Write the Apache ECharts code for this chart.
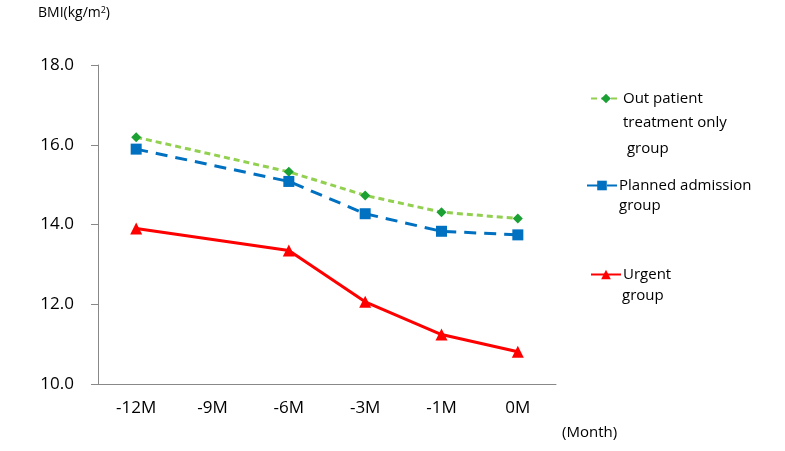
<!DOCTYPE html><html><head><meta charset="utf-8"><script src="https://cdn.jsdelivr.net/npm/echarts@6/dist/echarts.min.js"></script></head><body style="margin:0"><div id="c" style="width:785px;height:451px"></div><script>
const categories=['-12M','-9M','-6M','-3M','-1M','0M'];
const outPatient=[16.19,null,15.32,14.73,14.31,14.15];
const planned=[15.89,null,15.08,14.27,13.83,13.74];
const urgent=[13.9,null,13.35,12.06,11.24,10.81];
const yTicks=[10,12,14,16,18];
const F='"Open Sans", "Noto Sans", sans-serif';
const ch=echarts.init(document.getElementById('c'));
const leg=(name,top,left)=>({data:[name],left:left,top:top,itemWidth:30,itemHeight:12,itemGap:0,textStyle:{fontSize:15,fontFamily:F,color:'#000',padding:[0,0,0,-3]},selectedMode:false});
ch.setOption({
 animation:false,
 grid:{left:98,right:229,top:65,bottom:67},
 xAxis:{type:'category',data:categories,boundaryGap:true,axisLine:{lineStyle:{color:'#888'}},axisTick:{lineStyle:{color:'#888'},length:7},axisLabel:{fontSize:17,fontFamily:F,color:'#000',margin:16}},
 yAxis:{type:'value',min:10,max:18,interval:2,axisLine:{show:true,lineStyle:{color:'#888'}},axisTick:{show:true,length:7,lineStyle:{color:'#888'}},splitLine:{show:false},axisLabel:{fontSize:17,fontFamily:F,color:'#000',margin:24,formatter:v=>v.toFixed(1)}},
 legend:[leg('Out patient',86,585),leg('Planned admission',173,581),leg('Urgent',262,585)],
 series:[
  {name:'Out patient',type:'line',data:outPatient,connectNulls:true,symbol:'diamond',symbolSize:10,color:'#1aa033',lineStyle:{color:'#92d050',width:3,type:[6,4]},itemStyle:{color:'#1aa033'}},
  {name:'Planned admission',type:'line',data:planned,connectNulls:true,symbol:'rect',symbolSize:11,color:'#0070c0',lineStyle:{color:'#0070c0',width:3,type:[12,8]},itemStyle:{color:'#0070c0'}},
  {name:'Urgent',type:'line',data:urgent,connectNulls:true,symbol:'triangle',symbolSize:12,color:'#ff0000',lineStyle:{color:'#ff0000',width:3},itemStyle:{color:'#ff0000'}}
 ],
 graphic:[
  {type:'text',left:38,top:6,style:{text:'BMI(kg/m{s|2})',fontSize:14,fontFamily:F,fill:'#000',rich:{s:{fontSize:9,verticalAlign:'top',padding:[0,0,6,0],fontFamily:F}}}},
  {type:'text',left:623,top:110,style:{text:'treatment only\n group',fontSize:15,lineHeight:26,fontFamily:F,fill:'#000'}},
  {type:'text',left:619,top:198,style:{text:'group',fontSize:15,fontFamily:F,fill:'#000'}},
  {type:'text',left:622,top:288,style:{text:'group',fontSize:15,fontFamily:F,fill:'#000'}},
  {type:'text',left:562,top:425,style:{text:'(Month)',fontSize:15,fontFamily:F,fill:'#000'}}
 ]
});
</script></body></html>
